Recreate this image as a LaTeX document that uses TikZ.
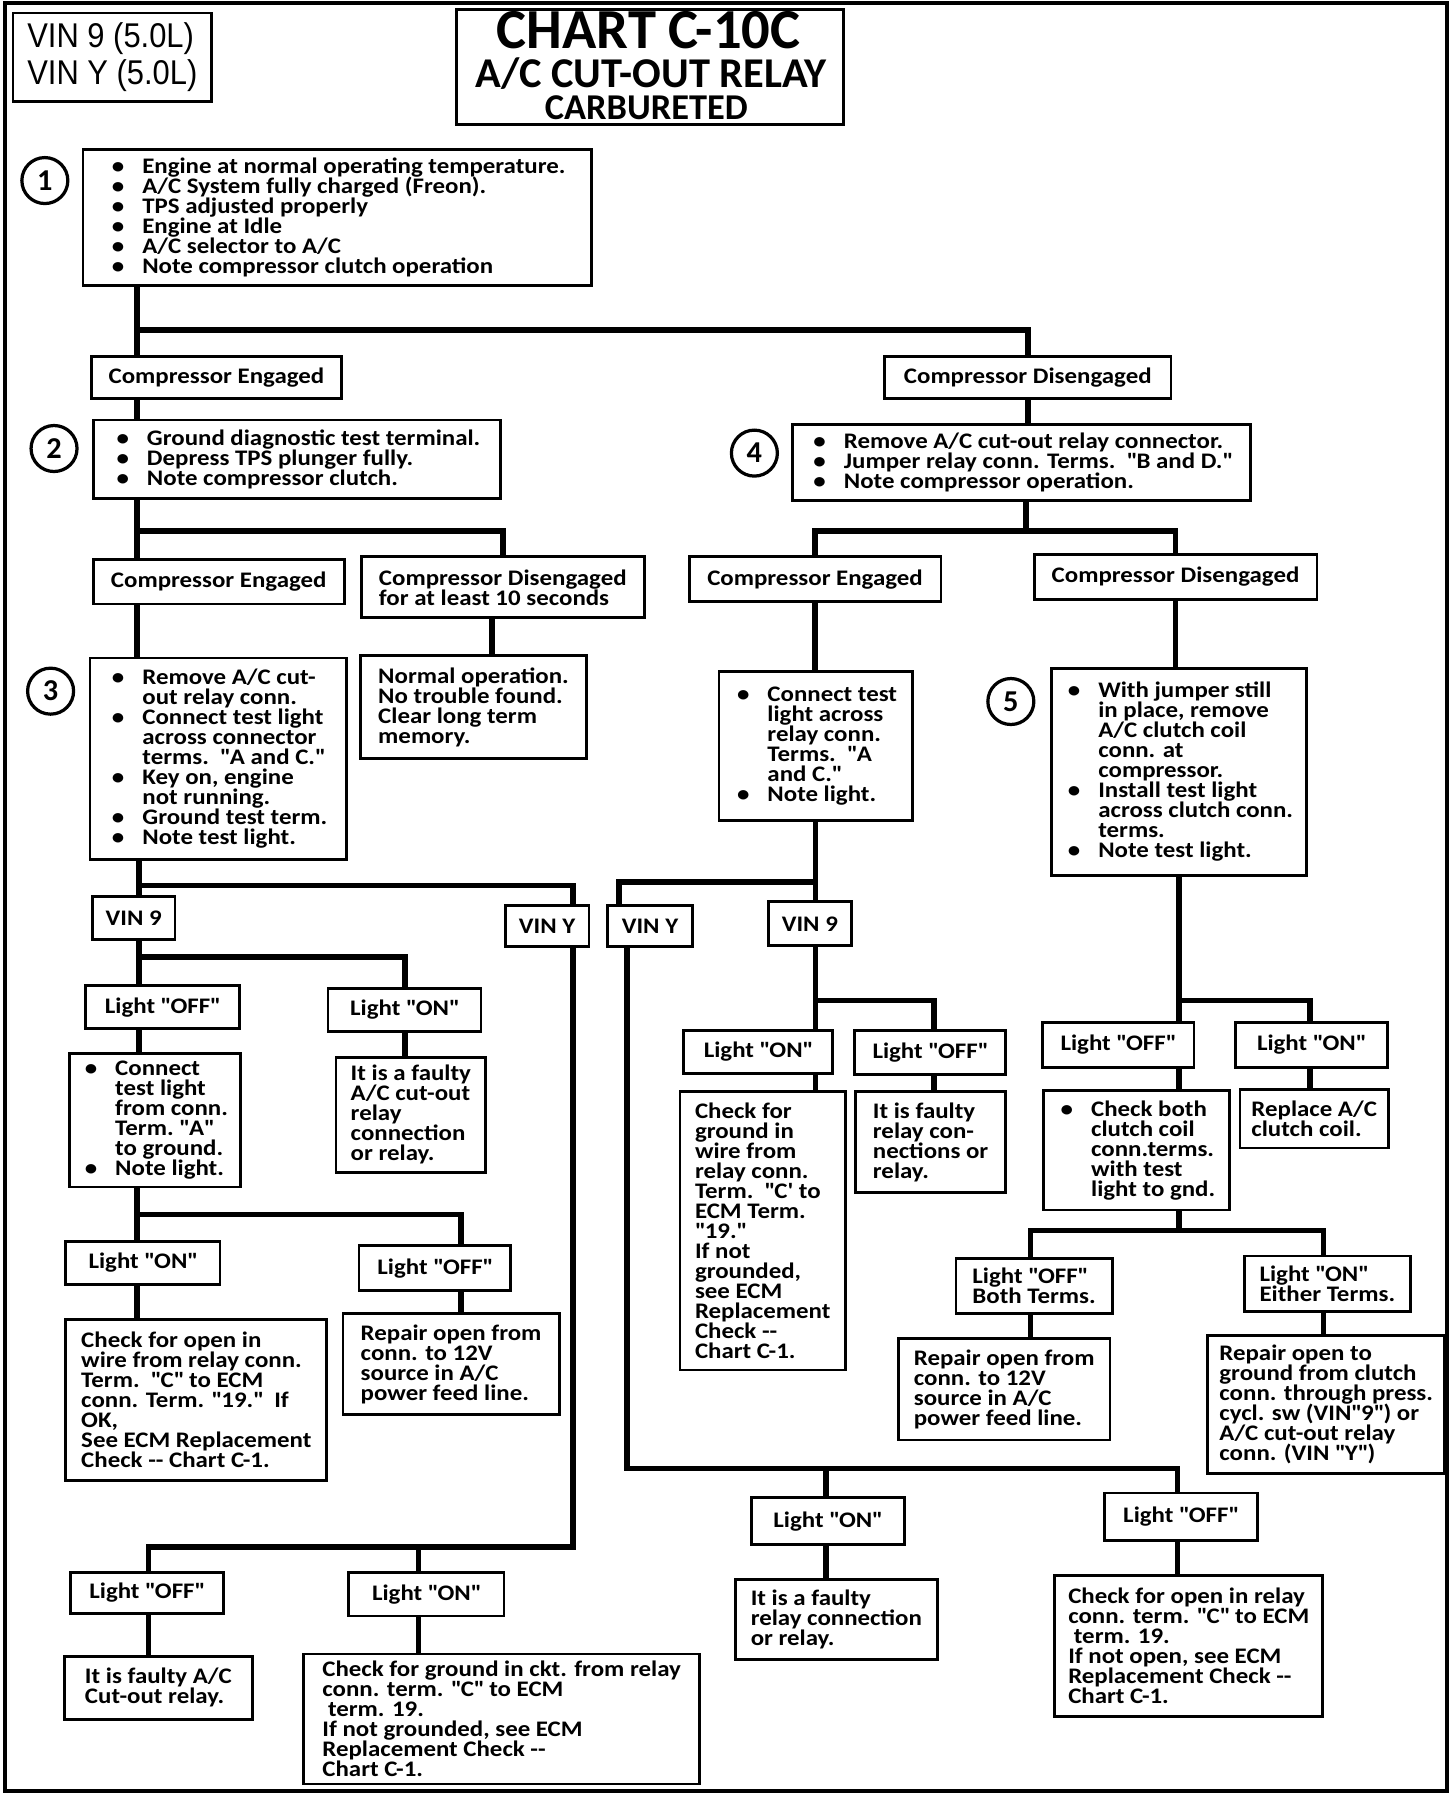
\documentclass[tikz,border=0pt]{standalone}
\usepackage{fontspec}
\setmainfont{Carlito}
\newfontfamily\boxfont{Carlito}[FakeStretch=1.12]
\newfontfamily\vinfont{Liberation Sans}[FakeStretch=0.9]
\newcommand{\chartfont}{\boxfont\bfseries\fontsize{11}{9.9}\selectfont\lineskiplimit=-20pt}
\newcommand{\bl}{\noindent\makebox[0.58cm][l]{\hspace{0.05cm}\textbullet}}
\newcommand{\ind}{\noindent\hspace*{0.58cm}}
\newcommand{\twodash}{-{}-}
\newcommand{\quo}[1]{\textquotedbl#1\textquotedbl}

\tikzset{
  box/.style={draw, line width=1.4pt, anchor=north west, font=\chartfont,
    align=left, inner xsep=0.2cm, inner ysep=0pt},
  wh/.style 2 args={minimum width=#1*0.02cm, minimum height=#2*0.02cm},
  link/.style={line width=2.8pt},
  titleline/.style={anchor=base, inner sep=0pt},
  stepnum/.style={draw, circle, line width=1.6pt, minimum size=0.8cm,
    inner sep=0pt, font=\bfseries\fontsize{15}{15}\selectfont},
}

\begin{document}
\begin{tikzpicture}[x=0.02cm, y=-0.02cm]
\useasboundingbox (0,0) rectangle (1266,1560);
\draw[line width=2pt] (4,3) rectangle (1258,1557);

% --- header ---
\node[box, wh={173}{77}, font=\vinfont\fontsize{17}{18.2}\selectfont] (vin) at (10,10) {VIN 9 (5.0L)\\VIN Y (5.0L)};
\node[box, wh={336}{100}] (title) at (396,7) {};
\node[titleline, font=\bfseries\fontsize{28}{28}\selectfont] (t1) at (564,42) {CHART C-10C};
\node[titleline, font=\bfseries\fontsize{21}{21}\selectfont] (t2) at (566,76) {A/C CUT-OUT RELAY};
\node[titleline, font=\bfseries\fontsize{18}{18}\selectfont] (t3) at (562,104) {CARBURETED};

% --- step numbers ---
\node[stepnum] (s1) at (39,157) {1};
\node[stepnum] (s2) at (47,390) {2};
\node[stepnum] (s3) at (44,601) {3};
\node[stepnum] (s4) at (656,394) {4};
\node[stepnum] (s5) at (879,610) {5};

% --- step 1 ---
\node[box, wh={442}{118}] (step1) at (71,129) {\bl Engine at normal operating temperature.\\ \bl A/C System fully charged (Freon).\\ \bl TPS adjusted properly\\ \bl Engine at Idle\\ \bl A/C selector to A/C\\ \bl Note compressor clutch operation};
\node[box, wh={218}{36}] (ce1) at (78,309) {Compressor Engaged};
\node[box, wh={249}{36}] (cd1) at (768,309) {Compressor Disengaged};

% --- step 2 / step 4 ---
\node[box, wh={354}{68}] (step2) at (80,364) {\bl Ground diagnostic test terminal.\\ \bl Depress TPS plunger fully.\\ \bl Note compressor clutch.};
\node[box, wh={398}{66}] (step4) at (688,368) {\bl Remove A/C cut-out relay connector.\\ \bl Jumper relay conn. Terms.\ \ \quo{B and D.}\\ \bl Note compressor operation.};
\node[box, wh={218}{39}] (ce2) at (80,485) {Compressor Engaged};
\node[box, wh={246}{53}] (cd2) at (313,483) {Compressor Disengaged\\for at least 10 seconds};
\node[box, wh={219}{39}] (ce3) at (598,483) {Compressor Engaged};
\node[box, wh={246}{39}] (cd3) at (898,481) {Compressor Disengaged};

% --- step 3 / step 5 ---
\node[box, wh={223}{175}] (step3) at (77,571) {\bl Remove A/C cut-\\ \ind out relay conn.\\ \bl Connect test light\\ \ind across connector\\ \ind terms.\ \ \quo{A and C.}\\ \bl Key on, engine\\ \ind not running.\\ \bl Ground test term.\\ \bl Note test light.};
\node[box, wh={197}{89}] (norm) at (312,569) {Normal operation.\\No trouble found.\\Clear long term\\memory.};
\node[box, wh={168}{129}] (ctl) at (624,583) {\bl Connect test\\ \ind light across\\ \ind relay conn.\\ \ind Terms.\ \ \textquotedbl A\\ \ind and C.\textquotedbl\\ \bl Note light.};
\node[box, wh={222}{180}] (step5) at (913,580) {\bl With jumper still\\ \ind in place, remove\\ \ind A/C clutch coil\\ \ind conn. at\\ \ind compressor.\\ \bl Install test light\\ \ind across clutch conn.\\ \ind terms.\\ \bl Note test light.};

% --- VIN boxes ---
\node[box, wh={72}{38}] (vin9a) at (79,778) {VIN 9};
\node[box, wh={73}{36}] (vinya) at (438,786) {VIN Y};
\node[box, wh={74}{36}] (vinyb) at (527,786) {VIN Y};
\node[box, wh={72}{38}] (vin9b) at (667,783) {VIN 9};

% --- left VIN 9 branch ---
\node[box, wh={134}{37}] (offa) at (73,856) {Light \quo{OFF}};
\node[box, wh={133}{38}] (ona) at (284,858) {Light \quo{ON}};
\node[box, wh={149}{116}] (conna) at (59,915) {\bl Connect\\ \ind test light\\ \ind from conn.\\ \ind Term.\ \quo{A}\\ \ind to ground.\\ \bl Note light.};
\node[box, wh={130}{100}] (faultya) at (291,918) {It is a faulty\\A/C cut-out\\relay\\connection\\or relay.};
\node[box, wh={134}{38}] (onb) at (56,1078) {Light \quo{ON}};
\node[box, wh={132}{39}] (offb) at (311,1082) {Light \quo{OFF}};
\node[box, wh={227}{140}] (openb) at (56,1146) {Check for open in\\wire from relay conn.\\Term.\ \ \quo{C} to ECM\\conn. Term. \quo{19.}\ \ If\\OK,\\See ECM Replacement\\Check \twodash\ Chart C-1.};
\node[box, wh={188}{88}] (repairb) at (297,1141) {Repair open from\\conn. to 12V\\source in A/C\\power feed line.};

% --- left VIN Y branch ---
\node[box, wh={133}{36}] (offc) at (60,1366) {Light \quo{OFF}};
\node[box, wh={135}{38}] (onc) at (302,1366) {Light \quo{ON}};
\node[box, wh={163}{55}] (faultyc) at (55,1439) {It is faulty A/C\\Cut-out relay.};
\node[box, wh={344}{113}] (groundc) at (263,1437) {Check for ground in ckt. from relay\\conn. term. \quo{C} to ECM\\\ term. 19.\\If not grounded, see ECM\\Replacement Check \twodash\\Chart C-1.};

% --- right VIN 9 branch ---
\node[box, wh={130}{37}] (ond) at (593,895) {Light \quo{ON}};
\node[box, wh={131}{38}] (offd) at (742,895) {Light \quo{OFF}};
\node[box, wh={144}{242}] (groundd) at (590,948) {Check for\\ground in\\wire from\\relay conn.\\Term.\ \ \textquotedbl C' to\\ECM Term.\\\quo{19.}\\If not\\grounded,\\see ECM\\Replacement\\Check \twodash\\Chart C-1.};
\node[box, wh={130}{88}] (faultyd) at (743,948) {It is faulty\\relay con-\\nections or\\relay.};

% --- step 5 branch ---
\node[box, wh={132}{39}] (offe) at (905,888) {Light \quo{OFF}};
\node[box, wh={132}{39}] (one) at (1073,888) {Light \quo{ON}};
\node[box, wh={162}{104}] (checke) at (906,947) {\bl Check both\\ \ind clutch coil\\ \ind conn.terms.\\ \ind with test\\ \ind light to gnd.};
\node[box, wh={129}{51}] (replacee) at (1077,946) {Replace A/C\\clutch coil.};
\node[box, wh={136}{48}] (offf) at (830,1093) {Light \quo{OFF}\\Both Terms.};
\node[box, wh={144}{48}] (onf) at (1081,1091) {Light \quo{ON}\\Either Terms.};
\node[box, wh={184}{88}] (repairf) at (780,1163) {Repair open from\\conn. to 12V\\source in A/C\\power feed line.};
\node[box, wh={206}{120}] (repairg) at (1049,1160) {Repair open to\\ground from clutch\\conn. through press.\\cycl. sw (VIN\quo{9}) or\\A/C cut-out relay\\conn. (VIN \quo{Y})};

% --- right VIN Y branch ---
\node[box, wh={133}{41}] (ong) at (652,1301) {Light \quo{ON}};
\node[box, wh={133}{41}] (offg) at (959,1297) {Light \quo{OFF}};
\node[box, wh={176}{70}] (faultyg) at (638,1372) {It is a faulty\\relay connection\\or relay.};
\node[box, wh={233}{122}] (openg) at (916,1369) {Check for open in relay\\conn. term. \quo{C} to ECM\\\ term. 19.\\If not open, see ECM\\Replacement Check \twodash\\Chart C-1.};

% --- connectors ---
\coordinate (j1) at (119,287);
\draw[link] (step1.south -| j1) -- (ce1.north -| j1);
\draw[link] (j1) -| (cd1.north);
\draw[link] (ce1.south -| j1) -- (step2.north -| j1);
\draw[link] (cd1.south) -- (step4.north -| cd1.south);
\coordinate (j2) at (119,462);
\draw[link] (step2.south -| j2) -- (ce2.north -| j2);
\draw[link] (j2) -| (cd2.north);
\coordinate (j4) at (892,462);
\draw[link] (step4.south -| j4) -- (j4);
\draw[link] (ce3.north) |- (j4) -| (cd3.north);
\draw[link] (ce2.south -| j2) -- (step3.north -| j2);
\coordinate (c2) at (428,0);
\draw[link] (cd2.south -| c2) -- (norm.north -| c2);
\draw[link] (ce3.south) -- (ctl.north -| ce3.south);
\draw[link] (cd3.south) -- (step5.north -| cd3.south);

\coordinate (j3) at (121,770);
\coordinate (j3r) at (498,770);
\draw[link] (step3.south -| j3) -- (vin9a.north -| j3);
\draw[link] (j3) -- (j3r) -- (vinya.north -| j3r);
\coordinate (j5) at (709,767);
\coordinate (j5l) at (538,767);
\draw[link] (ctl.south -| j5) -- (vin9b.north -| j5);
\draw[link] (j5) -- (j5l) -- (vinyb.north -| j5l);

\coordinate (j6) at (121,832);
\coordinate (j6r) at (352,832);
\draw[link] (vin9a.south -| j6) -- (offa.north -| j6);
\draw[link] (j6) -- (j6r) -- (ona.north -| j6r);
\draw[link] (offa.south -| j6) -- (conna.north -| j6);
\draw[link] (ona.south -| j6r) -- (faultya.north -| j6r);
\coordinate (j7) at (119,1056);
\coordinate (j7r) at (401,1056);
\draw[link] (conna.south -| j7) -- (onb.north -| j7);
\draw[link] (j7) -- (j7r) -- (offb.north -| j7r);
\draw[link] (onb.south -| j7) -- (openb.north -| j7);
\draw[link] (offb.south -| j7r) -- (repairb.north -| j7r);

\coordinate (j8r) at (498,1345);
\coordinate (j8) at (129,1345);
\coordinate (j8m) at (364,1345);
\draw[link] (vinya.south -| j8r) -- (j8r) -- (j8) -- (offc.north -| j8);
\draw[link] (j8m) -- (onc.north -| j8m);
\draw[link] (offc.south -| j8) -- (faultyc.north -| j8);
\draw[link] (onc.south -| j8m) -- (groundc.north -| j8m);

\coordinate (j9) at (709,870);
\coordinate (j9r) at (812,870);
\draw[link] (vin9b.south -| j9) -- (ond.north -| j9);
\draw[link] (j9) -- (j9r) -- (offd.north -| j9r);
\draw[link] (ond.south -| j9) -- (groundd.north -| j9);
\draw[link] (offd.south -| j9r) -- (faultyd.north -| j9r);

\coordinate (j10) at (1025,870);
\coordinate (j10r) at (1139,870);
\draw[link] (step5.south -| j10) -- (offe.north -| j10);
\draw[link] (j10) -- (j10r) -- (one.north -| j10r);
\draw[link] (offe.south -| j10) -- (checke.north -| j10);
\draw[link] (one.south -| j10r) -- (replacee.north -| j10r);
\coordinate (j11) at (1025,1070);
\coordinate (j11l) at (896,1070);
\coordinate (j11r) at (1151,1070);
\draw[link] (checke.south -| j11) -- (j11);
\draw[link] (offf.north -| j11l) -- (j11l) -- (j11r) -- (onf.north -| j11r);
\draw[link] (offf.south -| j11l) -- (repairf.north -| j11l);
\draw[link] (onf.south -| j11r) -- (repairg.north -| j11r);

\coordinate (j12) at (545,1277);
\coordinate (j12m) at (718,1277);
\coordinate (j12r) at (1024,1277);
\draw[link] (vinyb.south -| j12) -- (j12) -- (j12r) -- (offg.north -| j12r);
\draw[link] (j12m) -- (ong.north -| j12m);
\draw[link] (ong.south -| j12m) -- (faultyg.north -| j12m);
\draw[link] (offg.south -| j12r) -- (openg.north -| j12r);
\end{tikzpicture}
\end{document}
